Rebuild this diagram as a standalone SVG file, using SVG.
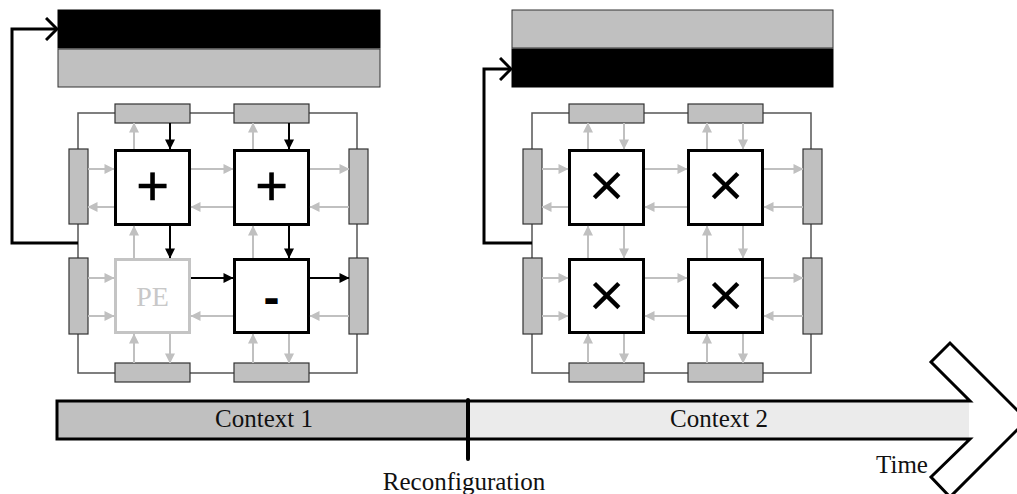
<svg xmlns="http://www.w3.org/2000/svg" width="1017" height="494" viewBox="0 0 1017 494">
  <style>
    .mem-on { fill: #000000; stroke: #000000; stroke-width: 1; }
    .mem-off { fill: #c0c0c0; stroke: #333333; stroke-width: 1; }
    .ring { fill: none; stroke: #555555; stroke-width: 1.5; }
    .reg { fill: #c0c0c0; stroke: #333333; stroke-width: 1.2; }
    .pe { fill: #ffffff; stroke: #000000; stroke-width: 3; }
    .pe-idle { fill: #ffffff; stroke: #c4c4c4; stroke-width: 3; }
    .op { font-family: "Liberation Sans", Arial, sans-serif; font-size: 56px; text-anchor: middle; fill: #000000; stroke: #000000; stroke-width: 0.6; }
    .op-x { font-family: "Liberation Sans", Arial, sans-serif; font-size: 62px; text-anchor: middle; fill: #000000; }
    .op-minus { font-family: "Liberation Sans", Arial, sans-serif; font-size: 48px; font-weight: bold; text-anchor: middle; fill: #000000; }
    .pe-label { font-family: "Liberation Serif", "Times New Roman", serif; font-size: 28px; text-anchor: middle; fill: #c8c8c8; }
    .g { stroke: #c0c0c0; stroke-width: 2; fill: none; marker-end: url(#head-grey); }
    .k { stroke: #000000; stroke-width: 2; fill: none; marker-end: url(#head-black); }
    .loop { stroke: #000000; stroke-width: 3; fill: none; marker-end: url(#head-open); }
    .label { font-family: "Liberation Serif", "Times New Roman", serif; font-size: 25px; fill: #111111; text-anchor: middle; }
  </style>
  <defs>
    <marker id="head-grey" viewBox="0 0 10 10" refX="9.5" refY="5" markerWidth="11" markerHeight="10" markerUnits="userSpaceOnUse" orient="auto">
      <path d="M0,0 L10,5 L0,10 Z" fill="#c0c0c0"/>
    </marker>
    <marker id="head-black" viewBox="0 0 10 10" refX="9.5" refY="5" markerWidth="11" markerHeight="10" markerUnits="userSpaceOnUse" orient="auto">
      <path d="M0,0 L10,5 L0,10 Z" fill="#000000"/>
    </marker>
    <marker id="head-open" viewBox="0 0 14 24" refX="12" refY="12" markerWidth="14" markerHeight="24" markerUnits="userSpaceOnUse" orient="auto">
      <path d="M1,1 L12,12 L1,23" fill="none" stroke="#000000" stroke-width="3"/>
    </marker>
  </defs>

  <!-- ===== Context 1 ===== -->
  <g id="ctx1-memory-active"><rect class="mem-on" x="58" y="10" width="322" height="38"/></g>
  <g id="ctx1-memory-idle"><rect class="mem-off" x="58" y="49" width="322" height="38"/></g>

  <g id="ctx1-ring"><rect class="ring" x="78" y="113" width="279" height="260"/></g>

  <g id="ctx1-reg-top-1"><rect class="reg" x="115" y="104" width="75" height="19"/></g>
  <g id="ctx1-reg-top-2"><rect class="reg" x="234" y="104" width="75" height="19"/></g>
  <g id="ctx1-reg-bottom-1"><rect class="reg" x="115" y="363" width="75" height="19"/></g>
  <g id="ctx1-reg-bottom-2"><rect class="reg" x="234" y="363" width="75" height="19"/></g>
  <g id="ctx1-reg-left-1"><rect class="reg" x="69" y="149" width="19" height="75"/></g>
  <g id="ctx1-reg-left-2"><rect class="reg" x="69" y="258" width="19" height="76"/></g>
  <g id="ctx1-reg-right-1"><rect class="reg" x="349" y="149" width="19" height="75"/></g>
  <g id="ctx1-reg-right-2"><rect class="reg" x="349" y="258" width="19" height="76"/></g>

  <g id="ctx1-pe-11">
    <rect class="pe" x="115.5" y="150.5" width="74" height="74"/>
    <text class="op" x="152.5" y="205">+</text>
  </g>
  <g id="ctx1-pe-12">
    <rect class="pe" x="234.5" y="150.5" width="74" height="74"/>
    <text class="op" x="271.5" y="205">+</text>
  </g>
  <g id="ctx1-pe-21">
    <rect class="pe-idle" x="115.5" y="259.5" width="74" height="73"/>
    <text class="pe-label" x="152.5" y="306">PE</text>
  </g>
  <g id="ctx1-pe-22">
    <rect class="pe" x="234.5" y="259.5" width="74" height="73"/>
    <text class="op-minus" x="271.5" y="314">-</text>
  </g>

  <g id="ctx1-connectors">
    <!-- vertical links -->
    <line class="g" x1="134" y1="149" x2="134" y2="123"/>
    <line class="k" x1="170" y1="123" x2="170" y2="149"/>
    <line class="g" x1="253" y1="149" x2="253" y2="123"/>
    <line class="k" x1="289" y1="123" x2="289" y2="149"/>
    <line class="g" x1="134" y1="258" x2="134" y2="226"/>
    <line class="k" x1="170" y1="226" x2="170" y2="258"/>
    <line class="g" x1="253" y1="258" x2="253" y2="226"/>
    <line class="k" x1="289" y1="226" x2="289" y2="258"/>
    <line class="g" x1="134" y1="363" x2="134" y2="334"/>
    <line class="g" x1="170" y1="334" x2="170" y2="363"/>
    <line class="g" x1="253" y1="363" x2="253" y2="334"/>
    <line class="g" x1="289" y1="334" x2="289" y2="363"/>
    <!-- horizontal links, upper row -->
    <line class="g" x1="88" y1="169" x2="114" y2="169"/>
    <line class="g" x1="114" y1="207" x2="88" y2="207"/>
    <line class="g" x1="191" y1="169" x2="233" y2="169"/>
    <line class="g" x1="233" y1="207" x2="191" y2="207"/>
    <line class="g" x1="310" y1="169" x2="349" y2="169"/>
    <line class="g" x1="349" y1="207" x2="310" y2="207"/>
    <!-- horizontal links, lower row -->
    <line class="g" x1="88" y1="278" x2="114" y2="278"/>
    <line class="g" x1="88" y1="316" x2="114" y2="316"/>
    <line class="k" x1="191" y1="278" x2="233" y2="278"/>
    <line class="g" x1="233" y1="316" x2="191" y2="316"/>
    <line class="k" x1="310" y1="278" x2="349" y2="278"/>
    <line class="g" x1="349" y1="316" x2="310" y2="316"/>
    <!-- configuration feedback -->
    <polyline class="loop" points="78,243 12,243 12,29 57,29"/>
  </g>

  <!-- ===== Context 2 ===== -->
  <g id="ctx2-memory-idle"><rect class="mem-off" x="512" y="10" width="321" height="38"/></g>
  <g id="ctx2-memory-active"><rect class="mem-on" x="512" y="49" width="321" height="38"/></g>

  <g id="ctx2-ring"><rect class="ring" x="532" y="113" width="279" height="260"/></g>

  <g id="ctx2-reg-top-1"><rect class="reg" x="569" y="104" width="75" height="19"/></g>
  <g id="ctx2-reg-top-2"><rect class="reg" x="688" y="104" width="75" height="19"/></g>
  <g id="ctx2-reg-bottom-1"><rect class="reg" x="569" y="363" width="75" height="19"/></g>
  <g id="ctx2-reg-bottom-2"><rect class="reg" x="688" y="363" width="75" height="19"/></g>
  <g id="ctx2-reg-left-1"><rect class="reg" x="523" y="149" width="19" height="75"/></g>
  <g id="ctx2-reg-left-2"><rect class="reg" x="523" y="258" width="19" height="76"/></g>
  <g id="ctx2-reg-right-1"><rect class="reg" x="803" y="149" width="19" height="75"/></g>
  <g id="ctx2-reg-right-2"><rect class="reg" x="803" y="258" width="19" height="76"/></g>

  <g id="ctx2-pe-11">
    <rect class="pe" x="569.5" y="150.5" width="74" height="74"/>
    <text class="op-x" x="606.5" y="206">×</text>
  </g>
  <g id="ctx2-pe-12">
    <rect class="pe" x="688.5" y="150.5" width="74" height="74"/>
    <text class="op-x" x="725.5" y="206">×</text>
  </g>
  <g id="ctx2-pe-21">
    <rect class="pe" x="569.5" y="259.5" width="74" height="73"/>
    <text class="op-x" x="606.5" y="316">×</text>
  </g>
  <g id="ctx2-pe-22">
    <rect class="pe" x="688.5" y="259.5" width="74" height="73"/>
    <text class="op-x" x="725.5" y="316">×</text>
  </g>

  <g id="ctx2-connectors">
    <line class="g" x1="588" y1="149" x2="588" y2="123"/>
    <line class="g" x1="624" y1="123" x2="624" y2="149"/>
    <line class="g" x1="707" y1="149" x2="707" y2="123"/>
    <line class="g" x1="743" y1="123" x2="743" y2="149"/>
    <line class="g" x1="588" y1="258" x2="588" y2="226"/>
    <line class="g" x1="624" y1="226" x2="624" y2="258"/>
    <line class="g" x1="707" y1="258" x2="707" y2="226"/>
    <line class="g" x1="743" y1="226" x2="743" y2="258"/>
    <line class="g" x1="588" y1="363" x2="588" y2="334"/>
    <line class="g" x1="624" y1="334" x2="624" y2="363"/>
    <line class="g" x1="707" y1="363" x2="707" y2="334"/>
    <line class="g" x1="743" y1="334" x2="743" y2="363"/>
    <line class="g" x1="542" y1="169" x2="568" y2="169"/>
    <line class="g" x1="568" y1="207" x2="542" y2="207"/>
    <line class="g" x1="645" y1="169" x2="687" y2="169"/>
    <line class="g" x1="687" y1="207" x2="645" y2="207"/>
    <line class="g" x1="764" y1="169" x2="803" y2="169"/>
    <line class="g" x1="803" y1="207" x2="764" y2="207"/>
    <line class="g" x1="542" y1="278" x2="568" y2="278"/>
    <line class="g" x1="542" y1="316" x2="568" y2="316"/>
    <line class="g" x1="645" y1="278" x2="687" y2="278"/>
    <line class="g" x1="687" y1="316" x2="645" y2="316"/>
    <line class="g" x1="764" y1="278" x2="803" y2="278"/>
    <line class="g" x1="803" y1="316" x2="764" y2="316"/>
    <polyline class="loop" points="532,243 484,243 484,69 511,69"/>
  </g>

  <!-- ===== Time axis ===== -->
  <g id="timeline">
    <rect x="57" y="401" width="411" height="38" fill="#c0c0c0"/>
    <rect x="468" y="401" width="501" height="38" fill="#ebebeb"/>
    <path d="M57,401 L970,401 L931,362 L950,343 L1027,420 L950,497 L931,477 L970,439 L57,439 Z" fill="none" stroke="#000000" stroke-width="3" stroke-linejoin="miter"/>
    <line x1="468" y1="400" x2="468" y2="459" stroke="#000000" stroke-width="4" stroke-linecap="round"/>
    <text class="label" x="264" y="427" font-size="26">Context 1</text>
    <text class="label" x="719" y="427" font-size="26">Context 2</text>
    <text class="label" x="464" y="490">Reconfiguration</text>
    <text class="label" x="902" y="473" font-size="24">Time</text>
  </g>
</svg>
